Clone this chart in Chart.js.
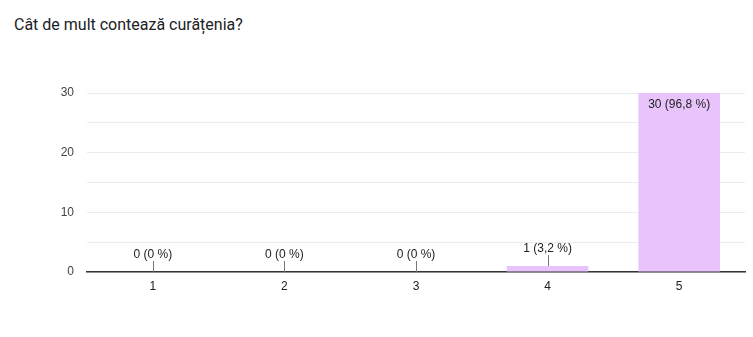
<!DOCTYPE html>
<html>
<head>
<meta charset="utf-8">
<script src="https://cdn.jsdelivr.net/npm/chart.js@4"></script>
<style>
  html, body { margin: 0; padding: 0; background: #fff; }
  #wrap { position: relative; width: 753px; height: 337px; }
  #title { position: absolute; left: 14px; top: 15px; font: 16px Roboto, Arial, sans-serif; color: #202124; }
  canvas { position: absolute; left: 0; top: 0; }
</style>
</head>
<body>
<div id="wrap">
  <div id="title">Cât de mult contează curățenia?</div>
  <canvas id="grafic" width="753" height="337"></canvas>
</div>
<script>
// raspunsuri
var categorii = ['1', '2', '3', '4', '5'];
var raspunsuri = [0, 0, 0, 1, 30];
var etichete = ['0 (0 %)', '0 (0 %)', '0 (0 %)', '1 (3,2 %)', '30 (96,8 %)'];

var fontGrafic = '"Liberation Sans", Arial, sans-serif';

// etichete cu linie de legatura
var eticheteBare = {
    id: 'eticheteBare',
    afterDatasetsDraw: function(chart) {
        var ctx = chart.ctx;
        var bare = chart.getDatasetMeta(0).data;
        ctx.save();
        ctx.font = '12px ' + fontGrafic;
        ctx.textAlign = 'center';
        ctx.textBaseline = 'middle';
        bare.forEach(function(bar, i) {
            var x = bar.x, y = bar.y;
            if (y - chart.chartArea.top < 25) {
                ctx.fillStyle = '#222';
                ctx.fillText(etichete[i], x, y + 12);
            } else {
                ctx.strokeStyle = '#777';
                ctx.lineWidth = 1;
                ctx.beginPath();
                ctx.moveTo(Math.round(x) + 0.5, y);
                ctx.lineTo(Math.round(x) + 0.5, y - 11);
                ctx.stroke();
                ctx.fillStyle = '#222';
                ctx.fillText(etichete[i], x, y - 17);
            }
        });
        ctx.restore();
    }
};

var ctx = document.getElementById('grafic').getContext('2d');
var grafic = new Chart(ctx, {
    type: 'bar',
    data: {
        labels: categorii,
        datasets: [{
            data: raspunsuri,
            backgroundColor: '#E9C3FB',
            borderWidth: 0,
            barPercentage: 0.62,
            categoryPercentage: 1.0
        }]
    },
    options: {
        responsive: false,
        animation: false,
        layout: { padding: { left: 0, right: 8, top: 93, bottom: 35 } },
        plugins: {
            legend: { display: false },
            tooltip: { enabled: false }
        },
        scales: {
            x: {
                grid: { display: false, drawTicks: false },
                border: { display: true, color: '#333', width: 1.5 },
                ticks: { color: '#222', font: { size: 12, family: fontGrafic }, padding: 7 },
                afterFit: function(scale) { scale.height = 30; }
            },
            y: {
                min: 0,
                max: 30,
                ticks: {
                    stepSize: 5,
                    color: '#444',
                    padding: 13,
                    font: { size: 12, family: fontGrafic },
                    callback: function(v) { return v % 10 === 0 ? v : ''; }
                },
                grid: { color: '#ebebeb', drawTicks: false },
                border: { display: false },
                afterFit: function(scale) { scale.width = 87; }
            }
        }
    },
    plugins: [eticheteBare]
});
</script>
</body>
</html>
